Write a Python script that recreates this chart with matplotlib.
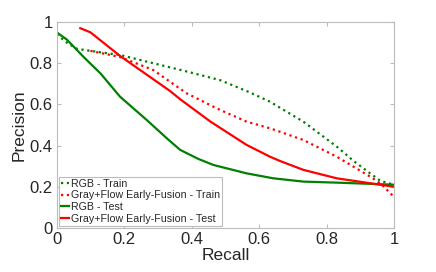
import matplotlib
matplotlib.use("Agg")
import matplotlib.pyplot as plt

plt.rcParams['font.family'] = ['Liberation Sans', 'DejaVu Sans']

# RGB - Train (green dotted)
rgb_train_x = [0.0, 0.03, 0.06, 0.12, 0.188, 0.286, 0.385, 0.484, 0.57, 0.632, 0.731, 0.83, 0.88, 0.929, 0.96, 1.0]
rgb_train_y = [0.94, 0.90, 0.87, 0.855, 0.84, 0.80, 0.76, 0.718, 0.66, 0.613, 0.516, 0.395, 0.325, 0.265, 0.228, 0.21]

# Gray+Flow Early-Fusion - Train (red dotted)
gf_train_x = [0.10, 0.188, 0.286, 0.385, 0.475, 0.563, 0.632, 0.662, 0.731, 0.83, 0.929, 0.96, 1.0]
gf_train_y = [0.86, 0.83, 0.767, 0.654, 0.58, 0.516, 0.484, 0.467, 0.427, 0.346, 0.249, 0.215, 0.15]

# RGB - Test (green solid)
rgb_test_x = [0.0, 0.03, 0.08, 0.13, 0.188, 0.267, 0.33, 0.366, 0.42, 0.464, 0.563, 0.642, 0.731, 0.83, 1.0]
rgb_test_y = [0.95, 0.915, 0.83, 0.75, 0.637, 0.524, 0.43, 0.379, 0.335, 0.306, 0.265, 0.241, 0.225, 0.22, 0.21]

# Gray+Flow Early-Fusion - Test (red solid)
gf_test_x = [0.07, 0.10, 0.188, 0.336, 0.366, 0.456, 0.563, 0.632, 0.662, 0.731, 0.83, 0.929, 1.0]
gf_test_y = [0.97, 0.95, 0.835, 0.665, 0.625, 0.516, 0.403, 0.346, 0.325, 0.282, 0.241, 0.217, 0.20]

labels = ["RGB - Train", "Gray+Flow Early-Fusion - Train",
          "RGB - Test", "Gray+Flow Early-Fusion - Test"]
ticks = [0, 0.2, 0.4, 0.6, 0.8, 1.0]
tick_labels = ["0", "0.2", "0.4", "0.6", "0.8", "1"]

green = "#008000"
red = "#ff0000"

fig = plt.figure(figsize=(4.36, 2.72), dpi=100)
ax = fig.add_axes([0.130, 0.162, 0.774, 0.757])

ax.plot(rgb_train_x, rgb_train_y, linestyle=":", color=green, lw=1.6, label=labels[0])
ax.plot(gf_train_x, gf_train_y, linestyle=":", color=red, lw=1.6, label=labels[1])
ax.plot(rgb_test_x, rgb_test_y, linestyle="-", color=green, lw=1.6, label=labels[2])
ax.plot(gf_test_x, gf_test_y, linestyle="-", color=red, lw=1.6, label=labels[3])

ax.set_xlim(0, 1)
ax.set_ylim(0, 1)
ax.set_xticks(ticks)
ax.set_xticklabels(tick_labels)
ax.set_yticks(ticks)
ax.set_yticklabels(tick_labels)

axis_grey = "#bcbcbc"
for s in ax.spines.values():
    s.set_color(axis_grey)
    s.set_linewidth(0.8)
ax.tick_params(direction="in", length=3, width=0.8, color=axis_grey,
               labelcolor="#262626", labelsize=12, top=True, right=True, pad=3)

ax.set_xlabel("Recall", fontsize=12.5, color="#262626", labelpad=1)
ax.set_ylabel("Precision", fontsize=12.5, color="#262626", labelpad=2)

leg = ax.legend(loc="lower left", fontsize=7.7, handlelength=0.75, handletextpad=0.15,
                borderpad=0.2, labelspacing=0.15, borderaxespad=0.2,
                fancybox=False, framealpha=1, edgecolor=axis_grey)
leg.get_frame().set_linewidth(0.8)
for t in leg.get_texts():
    t.set_color("#262626")

fig.savefig("out.png", dpi=100)
